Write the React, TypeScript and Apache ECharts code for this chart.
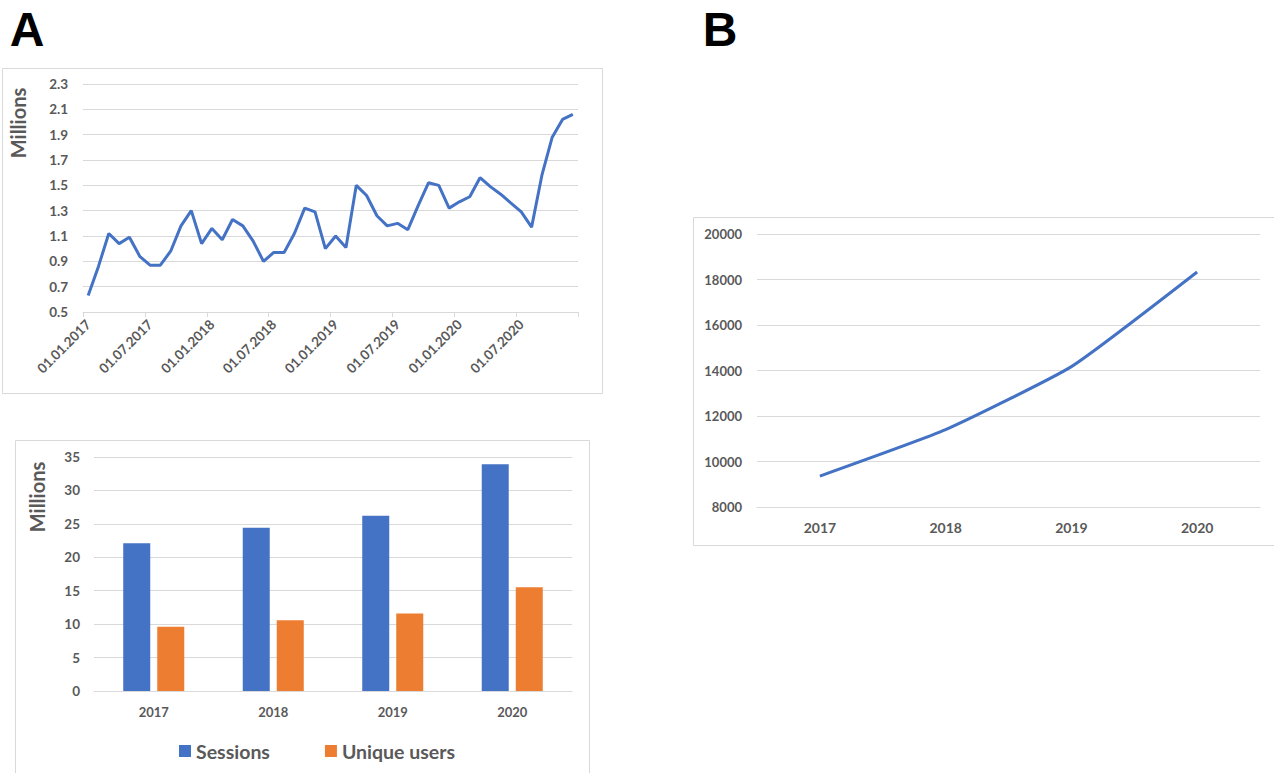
import React, { useEffect, useRef } from "react";
import * as echarts from "echarts";

// ---- Data ----
const years = [2017, 2018, 2019, 2020];
const monthLabels: string[] = [];
for (const y of years) {
  for (let m = 1; m <= 12; m++) {
    monthLabels.push(`01.${m < 10 ? "0" + m : m}.${y}`);
  }
}

const monthlySessionsMillions = [
  0.63, 0.86, 1.12, 1.04, 1.09, 0.94, 0.87, 0.87, 0.98, 1.18, 1.30, 1.04,
  1.16, 1.07, 1.23, 1.18, 1.06, 0.90, 0.97, 0.97, 1.12, 1.32, 1.29, 1.00,
  1.10, 1.01, 1.50, 1.42, 1.26, 1.18, 1.20, 1.15, 1.34, 1.52, 1.50, 1.32,
  1.37, 1.41, 1.56, 1.49, 1.43, 1.36, 1.29, 1.17, 1.58, 1.88, 2.02, 2.06,
];

const yearCategories = ["2017", "2018", "2019", "2020"];
const sessionsMillions = [22.1, 24.4, 26.2, 33.9];
const uniqueUsersMillions = [9.6, 10.6, 11.6, 15.5];
const panelBValues = [9360, 11400, 14170, 18330];

const BLUE = "#4472c4";
const ORANGE = "#ed7d31";
const TEXT = "#595959";
const GRID = "#d9d9d9";
const FONT = 'Lato, "Open Sans", sans-serif';

export default function App() {
  const ref = useRef<HTMLDivElement>(null);

  useEffect(() => {
    if (!ref.current) return;
    const chart = echarts.init(ref.current, undefined, { renderer: "svg" });

    const labelStyle = (size: number, margin: number) => ({
      color: TEXT,
      fontSize: size,
      fontWeight: "bold" as const,
      fontFamily: FONT,
      margin,
    });

    chart.setOption({
      animation: false,
      backgroundColor: "#ffffff",
      textStyle: { fontFamily: FONT },
      grid: [
        { left: 83, top: 84, width: 495, height: 228 },
        { left: 94, top: 457, width: 478, height: 234 },
        { left: 757, top: 234, width: 503, height: 273 },
      ],
      legend: {
        data: ["Sessions", "Unique users"],
        left: 179,
        top: 741,
        padding: 0,
        itemWidth: 12,
        itemHeight: 12,
        itemGap: 55,
        icon: "rect",
        textStyle: { color: TEXT, fontSize: 19.5, fontWeight: "bold", fontFamily: FONT },
      },
      xAxis: [
        {
          type: "category",
          gridIndex: 0,
          data: monthLabels,
          boundaryGap: true,
          axisLine: { lineStyle: { color: GRID, width: 1 } },
          axisTick: { show: true, interval: 5, length: 5, lineStyle: { color: GRID } },
          axisLabel: { ...labelStyle(13.5, 10), interval: 5, rotate: 45 },
          splitLine: { show: false },
        },
        {
          type: "category",
          gridIndex: 1,
          data: yearCategories,
          axisLine: { lineStyle: { color: GRID, width: 1 } },
          axisTick: { show: false },
          axisLabel: labelStyle(13, 14),
        },
        {
          type: "category",
          gridIndex: 2,
          data: yearCategories,
          axisLine: { lineStyle: { color: GRID, width: 1 } },
          axisTick: { show: false },
          axisLabel: labelStyle(14, 13),
        },
      ],
      yAxis: [
        {
          type: "value",
          gridIndex: 0,
          min: 0.5,
          max: 2.3,
          interval: 0.2,
          axisLine: { show: false },
          axisTick: { show: false },
          splitLine: { lineStyle: { color: GRID } },
          axisLabel: { ...labelStyle(13.5, 15), formatter: (v: number) => v.toFixed(1) },
        },
        {
          type: "value",
          gridIndex: 1,
          min: 0,
          max: 35,
          interval: 5,
          axisLine: { show: false },
          axisTick: { show: false },
          splitLine: { lineStyle: { color: GRID } },
          axisLabel: labelStyle(13.5, 14),
        },
        {
          type: "value",
          gridIndex: 2,
          min: 8000,
          max: 20000,
          interval: 2000,
          axisLine: { show: false },
          axisTick: { show: false },
          splitLine: { lineStyle: { color: GRID } },
          axisLabel: { ...labelStyle(13, 15), formatter: (v: number) => String(v) },
        },
      ],
      series: [
        {
          type: "line",
          name: "Monthly sessions",
          xAxisIndex: 0,
          yAxisIndex: 0,
          data: monthlySessionsMillions,
          showSymbol: false,
          symbol: "none",
          color: BLUE,
          lineStyle: { color: BLUE, width: 3 },
        },
        {
          type: "bar",
          name: "Sessions",
          xAxisIndex: 1,
          yAxisIndex: 1,
          data: sessionsMillions,
          barWidth: 27,
          barGap: "26%",
          itemStyle: { color: BLUE },
        },
        {
          type: "bar",
          name: "Unique users",
          xAxisIndex: 1,
          yAxisIndex: 1,
          data: uniqueUsersMillions,
          barWidth: 27,
          barGap: "26%",
          itemStyle: { color: ORANGE },
        },
        {
          type: "line",
          name: "Panel B",
          xAxisIndex: 2,
          yAxisIndex: 2,
          data: panelBValues,
          showSymbol: false,
          symbol: "none",
          smooth: 0.15,
          color: BLUE,
          lineStyle: { color: BLUE, width: 3 },
        },
      ],
      graphic: [
        {
          type: "rect",
          z: -10,
          silent: true,
          shape: { x: 2.5, y: 68.5, width: 600, height: 325 },
          style: { fill: "none", stroke: GRID, lineWidth: 1 },
        },
        {
          type: "rect",
          z: -10,
          silent: true,
          shape: { x: 15.5, y: 440.5, width: 574, height: 345 },
          style: { fill: "none", stroke: GRID, lineWidth: 1 },
        },
        {
          type: "rect",
          z: -10,
          silent: true,
          shape: { x: 693.5, y: 217.5, width: 600, height: 328 },
          style: { fill: "none", stroke: GRID, lineWidth: 1 },
        },
        {
          type: "text",
          x: 27,
          y: 29,
          style: {
            text: "A",
            fill: "#000000",
            font: 'bold 48px "Liberation Sans", Arial, sans-serif',
            align: "center",
            verticalAlign: "middle",
          },
        },
        {
          type: "text",
          x: 720,
          y: 29,
          style: {
            text: "B",
            fill: "#000000",
            font: 'bold 48px "Liberation Sans", Arial, sans-serif',
            align: "center",
            verticalAlign: "middle",
          },
        },
        {
          type: "text",
          x: 18,
          y: 123,
          rotation: Math.PI / 2,
          style: {
            text: "Millions",
            fill: TEXT,
            font: `bold 20px ${FONT}`,
            align: "center",
            verticalAlign: "middle",
          },
        },
        {
          type: "text",
          x: 37,
          y: 497,
          rotation: Math.PI / 2,
          style: {
            text: "Millions",
            fill: TEXT,
            font: `bold 20px ${FONT}`,
            align: "center",
            verticalAlign: "middle",
          },
        },
      ],
    });

    return () => chart.dispose();
  }, []);

  return (
    <div
      ref={ref}
      style={{ position: "fixed", left: 0, top: 0, width: 1274, height: 773, background: "#fff" }}
    />
  );
}
